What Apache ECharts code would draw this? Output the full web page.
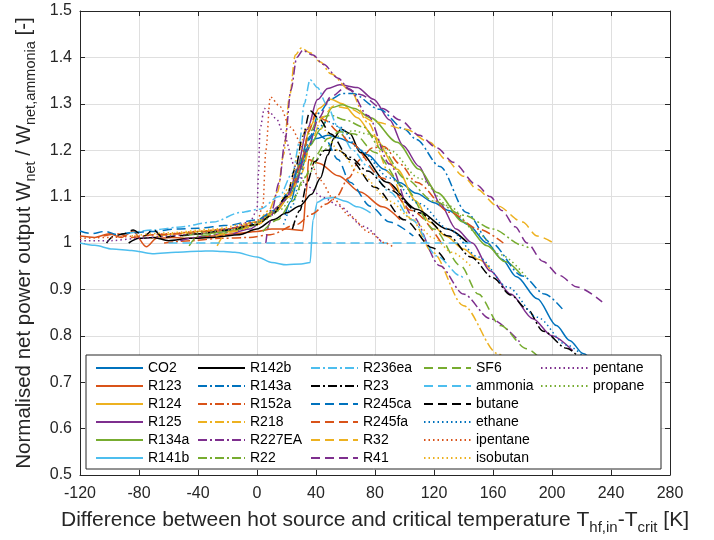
<!DOCTYPE html>
<html><head><meta charset="utf-8">
<script src="https://cdn.jsdelivr.net/npm/echarts@6/dist/echarts.min.js"></script>
<style>html,body{margin:0;padding:0;background:#fff}#c{width:714px;height:540px}</style>
</head><body><div id="c"></div>
<script>
// ---- data: [x = T_hf,in - T_crit (K), y = W_net / W_net,ammonia] ----
const CO2 = [[19,1.06],[23,1.09],[27,1.13],[31,1.18],[35,1.21],[40,1.225],[48,1.232],[56,1.226],[63,1.217],[75,1.19],[86,1.159],[97,1.13],[108,1.107],[120,1.087],[130,1.07],[143,1.04],[156,1.0],[166,0.965],[176,0.927],[190,0.88],[203,0.822],[212,0.79],[221,0.762],[230,0.735]];
const R123 = [[-120,1.015],[-110,1.012],[-100,1.02],[-92,1.012],[-84,1.025],[-75,0.992],[-68,1.01],[-58,1.012],[-45,1.01],[-30,1.015],[-15,1.02],[0,1.025],[10,1.03],[20,1.03],[31,1.027],[33.5,1.11],[35,1.18],[42,1.172],[55,1.145],[70,1.11],[85,1.078],[97,1.05]];
const R124 = [[-72,1.01],[-55,1.02],[-40,1.025],[-20,1.03],[0,1.045],[12,1.07],[22,1.11],[30,1.18],[36,1.25],[42,1.29],[50,1.31],[58,1.3],[68,1.27],[79,1.23],[95,1.159],[108,1.09],[117,1.045],[128,1.015],[140,0.987],[150,0.965],[158,0.944]];
const R125 = [[-16,1.02],[-5,1.03],[5,1.05],[15,1.08],[22,1.105],[27,1.159],[34,1.245],[41,1.309],[48,1.333],[56,1.341],[68,1.335],[79,1.31],[90,1.265],[99,1.21],[110,1.165],[117,1.125],[124,1.085],[135,1.03],[146,1.0],[158,0.94],[172,0.89],[187,0.837],[200,0.8],[214,0.768]];
const R134a = [[-51,1.015],[-35,1.02],[-20,1.025],[0,1.04],[12,1.065],[22,1.1],[30,1.16],[36,1.21],[43,1.245],[51,1.292],[58,1.298],[66,1.29],[77,1.27],[95,1.217],[110,1.159],[122,1.109],[140,1.045],[156,0.994],[168,0.96],[179,0.932]];
const R141b = [[-120,1.0],[-110,0.995],[-98,0.987],[-85,0.984],[-71,0.977],[-55,0.98],[-40,0.982],[-30,0.983],[-15,0.98],[0,0.97],[10,0.958],[20,0.953],[30,0.955],[36,0.958],[38,1.05],[41,1.088],[46,1.096],[52,1.098],[60,1.09],[68,1.078],[77,1.065]];
const R142b = [[-87,1.0],[-80,1.01],[-70,1.012],[-60,1.005],[-45,1.01],[-30,1.012],[-12,1.018],[0,1.03],[11,1.05],[20,1.065],[29,1.08],[37,1.105],[43,1.14],[48,1.19],[52,1.225],[57,1.245],[63,1.236],[70,1.195],[88,1.131],[108,1.073],[129,1.03],[143,1.0]];
const R143a = [[-23,1.025],[-10,1.035],[0,1.045],[12,1.07],[22,1.11],[30,1.17],[36,1.23],[42,1.28],[50,1.31],[58,1.322],[65,1.322],[83,1.288],[100,1.245],[108,1.223],[124,1.165],[142,1.066],[158,1.002],[180,0.929],[195,0.89],[207,0.858]];
const R152a = [[-63,1.0],[-45,1.005],[-25,1.01],[-5,1.012],[9,1.018],[27,1.04],[37,1.062],[47,1.084],[54,1.1],[62,1.14],[70,1.18],[78,1.205],[86,1.208],[97,1.17],[108,1.131],[131,1.066],[150,1.03],[167,1.0]];
const R218 = [[-27,0.994],[-20,1.024],[-10,1.03],[0,1.045],[8,1.07],[14,1.11],[18,1.19],[22,1.315],[26,1.405],[30,1.42],[36,1.41],[43,1.39],[50,1.365],[63,1.33],[75,1.26],[90,1.15],[105,1.05],[119,0.98],[140,0.865],[163,0.762],[175,0.72]];
const R227EA = [[-52,1.005],[-35,1.015],[-15,1.025],[0,1.04],[10,1.07],[15,1.13],[19,1.22],[23,1.33],[27,1.4],[31,1.415],[38,1.405],[45,1.385],[55,1.355],[63,1.33],[75,1.275],[90,1.17],[105,1.06],[124,0.951],[140,0.89],[158,0.837],[178,0.787]];
const R22 = [[-46,0.994],[-40,1.015],[-25,1.02],[-10,1.03],[0,1.04],[12,1.07],[22,1.11],[30,1.18],[36,1.24],[42,1.27],[50,1.275],[60,1.265],[72,1.25],[85,1.2],[100,1.14],[120,1.09],[140,1.06],[160,1.03],[180,0.995],[184,0.99]];
const R236ea = [[-89,1.02],[-70,1.028],[-54,1.034],[-30,1.045],[-11,1.066],[2,1.073],[15,1.1],[24,1.15],[29,1.22],[32,1.3],[36,1.352],[41,1.335],[47,1.3],[55,1.25],[65,1.2],[75,1.165],[90,1.11],[105,1.05],[122,0.972],[138,0.929],[141,0.92]];
const R23 = [[24,1.03],[29,1.07],[34,1.13],[39,1.175],[46,1.2],[55,1.2],[63,1.185],[75,1.155],[90,1.115],[110,1.065],[130,1.015],[145,0.97],[160,0.925],[172,0.888],[183,0.858],[194,0.81],[210,0.773],[222,0.74]];
const R245ca = [[-120,1.026],[-112,1.02],[-103,1.025],[-95,1.018],[-85,1.022],[-70,1.025],[-55,1.03],[-40,1.032],[-20,1.038],[0,1.05],[12,1.07],[22,1.11],[29,1.17],[34,1.22],[40,1.24],[46,1.225],[55,1.18],[63,1.131],[77,1.079],[90,1.045],[106,1.015]];
const R245fa = [[-104,1.015],[-95,1.02],[-85,1.012],[-70,1.018],[-50,1.02],[-30,1.025],[-10,1.035],[0,1.04],[12,1.065],[22,1.1],[30,1.17],[35,1.24],[40,1.28],[46,1.265],[55,1.24],[63,1.217],[85,1.14],[105,1.07],[126,0.995]];
const R32 = [[-28,1.015],[-15,1.025],[0,1.04],[12,1.065],[22,1.1],[30,1.15],[37,1.22],[44,1.27],[52,1.295],[62,1.29],[81,1.26],[101,1.245],[117,1.217],[128,1.18],[140,1.144],[149,1.116],[163,1.08],[180,1.045],[190,1.015],[201,1.0]];
const R41 = [[6,1.0],[8,1.04],[11,1.065],[18,1.09],[26,1.13],[34,1.2],[42,1.27],[50,1.315],[60,1.335],[70,1.32],[85,1.29],[97,1.265],[110,1.232],[122,1.205],[133,1.174],[149,1.125],[158,1.1],[166,1.07],[175,1.035],[183,1.0],[194,0.96],[205,0.93],[217,0.905],[234,0.873]];
const SF6 = [[4,1.025],[14,1.05],[24,1.09],[32,1.14],[40,1.19],[48,1.225],[56,1.24],[66,1.235],[80,1.195],[100,1.12],[120,1.03],[138,0.951],[150,0.89],[165,0.822],[183,0.772],[195,0.74]];
const ammonia = [[-60,1],[0,1],[145,1]];
const butane = [[-102,1.0],[-97,1.015],[-90,1.02],[-84,1.028],[-77,1.015],[-70,1.028],[-64,1.012],[-55,1.015],[-40,1.02],[-20,1.028],[0,1.04],[10,1.06],[20,1.1],[26,1.16],[31,1.23],[36,1.285],[42,1.268],[50,1.235],[63,1.18],[80,1.12],[100,1.05],[119,0.99],[128,0.96]];
const ethane = [[18,1.04],[24,1.08],[29,1.14],[34,1.2],[40,1.245],[48,1.262],[56,1.25],[70,1.2],[90,1.14],[110,1.085],[130,1.03],[150,0.97],[170,0.905],[190,0.84],[210,0.78],[226,0.74]];
const ipentane = [[-120,1.01],[-100,1.012],[-80,1.015],[-60,1.02],[-40,1.025],[-20,1.03],[0,1.045],[4,1.08],[6,1.2],[9,1.315],[15.6,1.294],[22.4,1.25],[34,1.19],[43,1.135],[52,1.094],[63,1.058],[76,1.023],[87,1.0],[93,0.99]];
const isobutan = [[-85,1.015],[-60,1.022],[-30,1.03],[0,1.045],[12,1.07],[22,1.12],[28,1.19],[33,1.245],[38,1.26],[45,1.245],[55,1.2],[70,1.15],[90,1.09],[105,1.052],[120,1.01],[132,0.98],[145,0.95]];
const pentane = [[-120,1.005],[-100,1.005],[-80,1.01],[-60,1.015],[-40,1.02],[-20,1.03],[-5,1.045],[0,1.07],[1,1.15],[2,1.245],[5,1.29],[9,1.28],[13.5,1.266],[17.6,1.238],[25.8,1.165],[33.9,1.122],[45,1.098],[56,1.079],[72,1.036],[85,1.0]];
const propane = [[-47,1.02],[-25,1.025],[-5,1.035],[5,1.05],[15,1.07],[25,1.1],[35,1.15],[45,1.2],[55,1.23],[65,1.242],[75,1.235],[90,1.2],[110,1.14],[130,1.08],[150,1.02],[165,0.975],[183,0.925]];

const names = ['CO2','R123','R124','R125','R134a','R141b','R142b','R143a','R152a','R218','R227EA','R22','R236ea','R23','R245ca','R245fa','R32','R41','SF6','ammonia','butane','ethane','ipentane','isobutan','pentane','propane'];
const dataSets = [CO2,R123,R124,R125,R134a,R141b,R142b,R143a,R152a,R218,R227EA,R22,R236ea,R23,R245ca,R245fa,R32,R41,SF6,ammonia,butane,ethane,ipentane,isobutan,pentane,propane];
const xTicks = {min:-120, max:280, interval:40};
const yTicks = {min:0.5, max:1.5, interval:0.1};

// ---- styles ----
const palette = ['#0072BD','#D95319','#EDB120','#7E2F8E','#77AC30','#4DBEEE','#000000'];
const dashTypes = ['solid',[9,3,2,3],[9,5],[1.5,3]];
const FONT = '"Liberation Sans", Arial, Helvetica, sans-serif';
const AX = '#262626';

const series = names.map((n,i)=>({
  name:n, type:'line', data:dataSets[i], symbol:'none', showSymbol:false,
  smooth:0.3, smoothMonotone:'x', silent:true, z:2,
  lineStyle:{color:palette[i%7], width:1.5, type:dashTypes[Math.floor(i/7)]},
  itemStyle:{color:palette[i%7]}
}));

const cols = [names.slice(0,6),names.slice(6,12),names.slice(12,18),names.slice(18,24),names.slice(24)];
const colLeft = [95,197,310,423,540];
const legends = cols.map((d,k)=>({
  data:d, orient:'vertical', left:colLeft[k], top:361, itemWidth:47, itemHeight:10, itemGap:4,
  padding:0, selectedMode:false, z:5,
  itemStyle:{color:'rgba(0,0,0,0)', borderColor:'rgba(0,0,0,0)', borderWidth:0},
  textStyle:{fontSize:14, color:'#000', fontFamily:FONT}
}));

const richX = {
  t:{fontSize:21, color:AX, fontFamily:FONT, lineHeight:30, verticalAlign:'middle'},
  s:{fontSize:15, color:AX, fontFamily:FONT, lineHeight:15, verticalAlign:'bottom'}
};
const richY = {
  t:{fontSize:20.5, color:AX, fontFamily:FONT, lineHeight:29, verticalAlign:'middle'},
  s:{fontSize:14.5, color:AX, fontFamily:FONT, lineHeight:14.5, verticalAlign:'bottom'}
};

const chart = echarts.init(document.getElementById('c'), null, {renderer:'canvas'});
chart.setOption({
  animation:false,
  backgroundColor:'#fff',
  grid:{left:80, right:44, top:11, bottom:63, containLabel:false},
  xAxis:[{
    type:'value', min:xTicks.min, max:xTicks.max, interval:xTicks.interval, position:'bottom',
    axisLine:{show:true, onZero:false, lineStyle:{color:AX, width:1}},
    axisTick:{show:true, inside:true, length:5, lineStyle:{color:AX}},
    axisLabel:{fontSize:16, color:AX, fontFamily:FONT, margin:11},
    splitLine:{show:true, lineStyle:{color:'#dfdfdf', width:1}},
    name:'{t|Difference between hot source and critical temperature T}{s|hf,in}{t|-T}{s|crit}{t| [K]}',
    nameLocation:'middle', nameGap:30, nameTextStyle:{rich:richX}
  },{
    type:'value', min:xTicks.min, max:xTicks.max, interval:xTicks.interval, position:'top',
    axisLine:{show:true, onZero:false, lineStyle:{color:AX, width:1}},
    axisTick:{show:true, inside:true, length:5, lineStyle:{color:AX}},
    axisLabel:{show:false}, splitLine:{show:false}
  }],
  yAxis:[{
    type:'value', min:yTicks.min, max:yTicks.max, interval:yTicks.interval, position:'left',
    axisLine:{show:true, onZero:false, lineStyle:{color:AX, width:1}},
    axisTick:{show:true, inside:true, length:5, lineStyle:{color:AX}},
    axisLabel:{fontSize:16, color:AX, fontFamily:FONT, margin:8},
    splitLine:{show:true, lineStyle:{color:'#dfdfdf', width:1}},
    name:'{t|Normalised net power output W}{s|net}{t| / W}{s|net,ammonia}{t| [-]}',
    nameLocation:'middle', nameGap:34, nameRotate:90, nameTextStyle:{rich:richY}
  },{
    type:'value', min:yTicks.min, max:yTicks.max, interval:yTicks.interval, position:'right',
    axisLine:{show:true, onZero:false, lineStyle:{color:AX, width:1}},
    axisTick:{show:true, inside:true, length:5, lineStyle:{color:AX}},
    axisLabel:{show:false}, splitLine:{show:false}
  }],
  legend:legends,
  graphic:{elements:[{type:'rect', z:3, zlevel:0, shape:{x:86, y:355, width:575, height:114},
    style:{fill:'#fff', stroke:AX, lineWidth:1}, silent:true}]},
  series:series
});
</script></body></html>
